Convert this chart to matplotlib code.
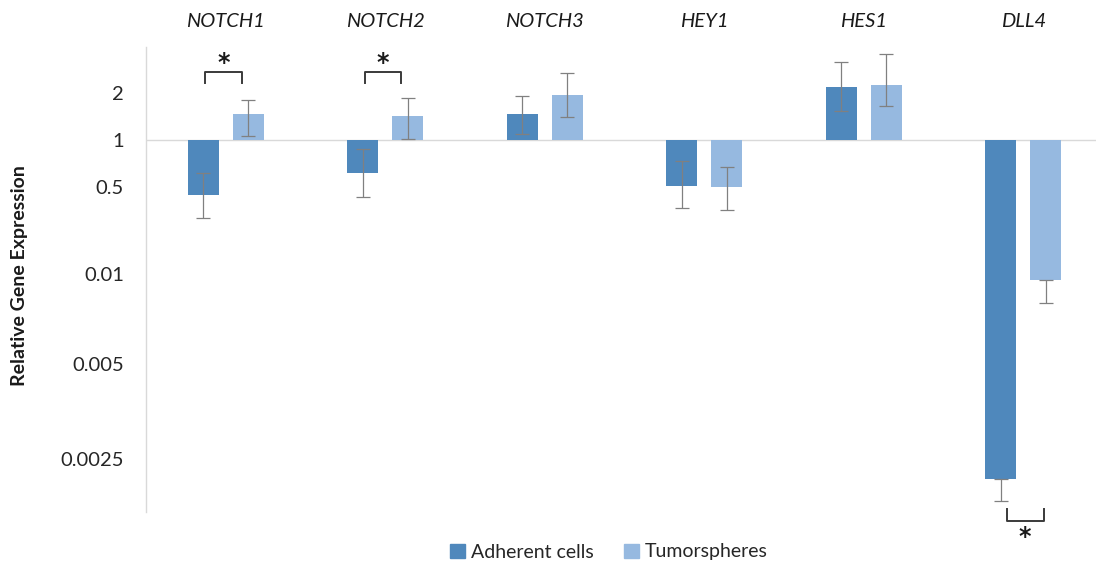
import numpy as np
import matplotlib
matplotlib.use("Agg")
import matplotlib.pyplot as plt
import matplotlib.transforms as mtransforms
from matplotlib.patches import Patch

plt.rcParams['font.family'] = ['Lato', 'DejaVu Sans']

# ---------------- data ----------------
genes = ["NOTCH1", "NOTCH2", "NOTCH3", "HEY1", "HES1", "DLL4"]
series = ["Adherent cells", "Tumorspheres"]
adherent = [0.337, 0.615, 1.47, 0.507, 2.20, 0.00217]
adherent_lo = [0.124, 0.316, 1.09, 0.192, 1.54, 0.00185]
adherent_hi = [0.61, 0.88, 1.93, 0.73, 3.20, 0.00217]
tumor = [1.48, 1.43, 1.96, 0.484, 2.28, 0.00955]
tumor_lo = [1.06, 1.02, 1.41, 0.177, 1.66, 0.0080]
tumor_hi = [1.82, 1.86, 2.72, 0.67, 3.60, 0.00955]
tick_values = [2, 1, 0.5, 0.01, 0.005, 0.0025]
tick_labels = ["2", "1", "0.5", "0.01", "0.005", "0.0025"]
significant = ["NOTCH1", "NOTCH2", "DLL4"]

# ------------- custom (Excel-like) axis scale -------------
anchor_vals = np.array([0.0025, 0.005, 0.01, 0.5, 1, 2])
anchor_units = np.array([-6.87, -4.82, -2.88, -1.0, 0.0, 1.0])
LA = np.log10(anchor_vals)
UA = anchor_units
s0 = (UA[1] - UA[0]) / (LA[1] - LA[0])
s1 = (UA[-1] - UA[-2]) / (LA[-1] - LA[-2])


def fwd(v):
    v = np.asarray(v, dtype=float)
    lv = np.log10(np.clip(v, 1e-12, None))
    u = np.interp(lv, LA, UA)
    u = np.where(lv < LA[0], UA[0] + (lv - LA[0]) * s0, u)
    u = np.where(lv > LA[-1], UA[-1] + (lv - LA[-1]) * s1, u)
    return u


def inv(u):
    u = np.asarray(u, dtype=float)
    lv = np.interp(u, UA, LA)
    lv = np.where(u < UA[0], LA[0] + (u - UA[0]) / s0, lv)
    lv = np.where(u > UA[-1], LA[-1] + (u - UA[-1]) / s1, lv)
    return 10 ** lv


c_adh = "#4F88BC"
c_tum = "#96B9E0"
err_c = "#808080"

fig = plt.figure(figsize=(10.96, 5.65), dpi=100)
ax = fig.add_axes([146 / 1096, 53 / 565, 957 / 1096, 465 / 565])
ax.set_yscale('function', functions=(fwd, inv))

x = np.arange(len(genes))
off = 0.14
w = 0.195

adh = np.array(adherent)
tum = np.array(tumor)
ax.bar(x - off, adh - 1, bottom=1, width=w, color=c_adh, zorder=2)
ax.bar(x + off, tum - 1, bottom=1, width=w, color=c_tum, zorder=2)

ax.errorbar(x - off, adh, yerr=[adh - np.array(adherent_lo), np.array(adherent_hi) - adh],
            fmt='none', ecolor=err_c, elinewidth=0.9, capsize=5, capthick=0.9, zorder=3)
ax.errorbar(x + off, tum, yerr=[tum - np.array(tumor_lo), np.array(tumor_hi) - tum],
            fmt='none', ecolor=err_c, elinewidth=0.9, capsize=5, capthick=0.9, zorder=3)

ax.axhline(1, color="#d9d9d9", lw=1.0, zorder=1)

ax.set_xlim(-0.5, len(genes) - 0.5)
ax.set_ylim(inv(-8.0), inv(2.0))
ax.set_yticks(tick_values)
ax.set_yticklabels(tick_labels)
ax.yaxis.set_minor_locator(matplotlib.ticker.NullLocator())
ax.tick_params(axis='y', length=0, pad=16, labelsize=14.5, labelcolor="#262626")
ax.set_xticks([])
for s in ["top", "right", "bottom"]:
    ax.spines[s].set_visible(False)
ax.spines["left"].set_color("#d9d9d9")
ax.spines["left"].set_linewidth(1.0)

ax.set_ylabel("Relative Gene Expression", fontsize=14, fontweight='bold', color="#1a1a1a")
ax.yaxis.set_label_coords(-0.1233, 0.509)

trans = mtransforms.blended_transform_factory(ax.transData, ax.transAxes)
for i, g in enumerate(genes):
    ax.text(i, 1.054, g, transform=trans, ha='center', va='center',
            fontsize=14.5, style='italic', color="#1a1a1a")

# significance brackets
bk = "#3a3a3a"
for g in significant:
    i = genes.index(g)
    if g != "DLL4":
        x0, x1 = i - 0.127, i + 0.099
        ax.plot([x0, x0, x1, x1], [0.923, 0.947, 0.947, 0.923], color=bk, lw=1.4,
                transform=trans, clip_on=False)
        ax.text((x0 + x1) / 2, 0.951, "*", transform=trans, ha='center', va='baseline',
                fontsize=17, fontweight='bold', color="#1a1a1a", family='DejaVu Sans')
    else:
        x0, x1 = i - 0.105, i + 0.129
        ax.plot([x0, x0, x1, x1], [0.0065, -0.0187, -0.0187, 0.0065], color=bk, lw=1.4,
                transform=trans, clip_on=False)
        ax.text((x0 + x1) / 2, -0.069, "*", transform=trans, ha='center', va='baseline',
                fontsize=17, fontweight='bold', color="#1a1a1a", family='DejaVu Sans')

handles = [Patch(color=c_adh, label=series[0]), Patch(color=c_tum, label=series[1])]
fig.legend(handles=handles, loc='center', bbox_to_anchor=(609 / 1096, 1 - 552 / 565),
           ncol=2, frameon=False, fontsize=14, handlelength=0.75, handleheight=0.75,
           handletextpad=0.3, columnspacing=1.6, labelcolor="#262626")

fig.savefig("out.png", dpi=100)
